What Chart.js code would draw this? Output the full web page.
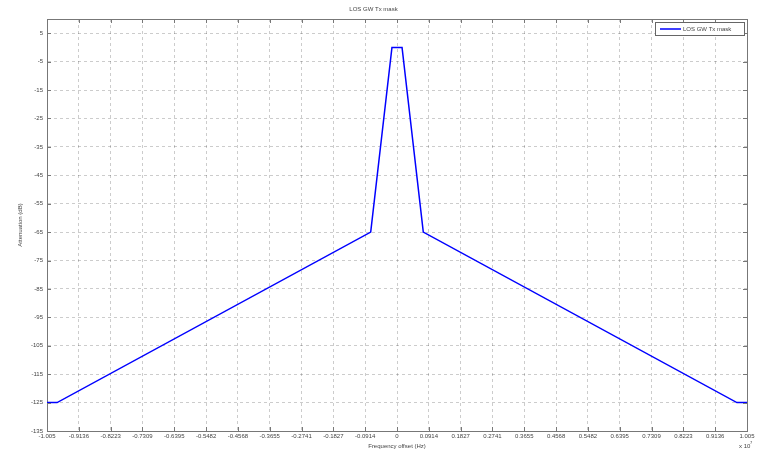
<!DOCTYPE html>
<html>
<head>
<meta charset="utf-8">
<title>LOS GW Tx mask</title>
<script src="https://cdn.jsdelivr.net/npm/chart.js@4.4.1/dist/chart.umd.min.js"></script>
<style>
  html, body { margin: 0; padding: 0; background: #fff; }
  #wrap { width: 761px; height: 451px; position: relative; }
</style>
</head>
<body>
<div id="wrap"><canvas id="maskChart"></canvas></div>
<script>
// frequency offset in units of 1e7 Hz (axis shows "x 10^7")
const freqOffset = [-1.005, -0.976, -0.0755, -0.0145, 0.0145, 0.0755, 0.976, 1.005];
const attenuation = [-125, -125, -65, 0, 0, -65, -125, -125];

const xTicks = [-1.005, -0.9136, -0.8223, -0.7309, -0.6395, -0.5482, -0.4568, -0.3655,
  -0.2741, -0.1827, -0.0914, 0, 0.0914, 0.1827, 0.2741, 0.3655, 0.4568, 0.5482,
  0.6395, 0.7309, 0.8223, 0.9136, 1.005];
const yTicks = [5, -5, -15, -25, -35, -45, -55, -65, -75, -85, -95, -105, -115, -125, -135];

const seriesLabel = "LOS GW Tx mask";
const lineColor = "#0000ff";
const textColor = "#444";
const fontFamily = "'Liberation Sans', Arial, sans-serif";

// matlab style: tick marks inside the box, legend box, exponent label
const matlabDecor = {
  id: "matlabDecor",
  afterDraw(chart) {
    const { ctx, chartArea: a, scales } = chart;
    ctx.save();
    ctx.strokeStyle = "#777";
    ctx.lineWidth = 1;
    ctx.beginPath();
    scales.x.ticks.forEach((t) => {
      const px = Math.round(scales.x.getPixelForValue(t.value)) + 0.5;
      ctx.moveTo(px, a.top); ctx.lineTo(px, a.top + 4);
      ctx.moveTo(px, a.bottom); ctx.lineTo(px, a.bottom - 4);
    });
    scales.y.ticks.forEach((t) => {
      const py = Math.round(scales.y.getPixelForValue(t.value)) + 0.5;
      ctx.moveTo(a.left, py); ctx.lineTo(a.left + 4, py);
      ctx.moveTo(a.right, py); ctx.lineTo(a.right - 4, py);
    });
    ctx.stroke();

    // legend
    const bx = a.right - 92, by = a.top + 3, bw = 89, bh = 13;
    ctx.fillStyle = "#fff";
    ctx.fillRect(bx, by, bw, bh);
    ctx.strokeStyle = "#666";
    ctx.strokeRect(bx + 0.5, by + 0.5, bw, bh);
    ctx.strokeStyle = lineColor;
    ctx.lineWidth = 1.5;
    ctx.beginPath();
    ctx.moveTo(bx + 5, by + 7);
    ctx.lineTo(bx + 26, by + 7);
    ctx.stroke();
    ctx.fillStyle = textColor;
    ctx.font = "6px " + fontFamily;
    ctx.textBaseline = "middle";
    ctx.textAlign = "left";
    ctx.fillText(seriesLabel, bx + 28, by + 7);

    // exponent
    ctx.fillText("x 10", a.right - 8, 446);
    ctx.font = "4px " + fontFamily;
    ctx.fillText("7", a.right + 3, 443);
    ctx.restore();
  },
};

const gridStyle = {
  color: "rgba(0,0,0,0.2)",
  lineWidth: 1,
  drawTicks: false,
};

new Chart(document.getElementById("maskChart"), {
  type: "line",
  data: {
    datasets: [
      {
        label: seriesLabel,
        data: freqOffset.map((f, i) => ({ x: f, y: attenuation[i] })),
        borderColor: lineColor,
        borderWidth: 1.5,
        pointRadius: 0,
        tension: 0,
        fill: false,
      },
    ],
  },
  options: {
    responsive: true,
    maintainAspectRatio: false,
    animation: false,
    layout: { padding: { left: 0, right: 14, top: 0, bottom: 0 } },
    plugins: {
      legend: { display: false },
      tooltip: { enabled: false },
      title: {
        display: true,
        text: "LOS GW Tx mask",
        color: textColor,
        font: { size: 6, family: fontFamily, weight: "normal" },
        padding: { top: 6, bottom: 5.8 },
      },
    },
    scales: {
      x: {
        type: "linear",
        min: -1.005,
        max: 1.005,
        afterBuildTicks: (s) => { s.ticks = xTicks.map((v) => ({ value: v })); },
        afterFit: (s) => { s.height = 20; },
        ticks: {
          autoSkip: false,
          maxRotation: 0,
          padding: 2,
          color: textColor,
          font: { size: 6, family: fontFamily },
          callback: (v) => String(v),
        },
        grid: { ...gridStyle },
        border: { display: true, color: "#777", dash: [3, 3] },
        title: {
          display: true,
          text: "Frequency offset (Hz)",
          color: textColor,
          font: { size: 6, family: fontFamily },
          padding: { top: 0, bottom: 1 },
        },
      },
      y: {
        type: "linear",
        min: -135,
        max: 10,
        afterBuildTicks: (s) => { s.ticks = yTicks.map((v) => ({ value: v })); },
        afterFit: (s) => { s.width = 47; },
        ticks: {
          padding: 4,
          color: textColor,
          font: { size: 6, family: fontFamily },
        },
        grid: { ...gridStyle },
        border: { display: true, color: "#777", dash: [3, 3] },
        title: {
          display: true,
          text: "Attenuation (dB)",
          color: textColor,
          font: { size: 6, family: fontFamily },
          padding: { top: 17, bottom: 0 },
        },
      },
    },
  },
  plugins: [
    {
      id: "boxFrame",
      beforeDatasetsDraw(chart) {
        // solid box like matlab
        const { ctx, chartArea: a } = chart;
        ctx.save();
        ctx.strokeStyle = "#777";
        ctx.lineWidth = 1;
        ctx.strokeRect(a.left + 0.5, a.top + 0.5, a.right - a.left, a.bottom - a.top);
        ctx.restore();
      },
    },
    matlabDecor,
  ],
});
</script>
</body>
</html>
